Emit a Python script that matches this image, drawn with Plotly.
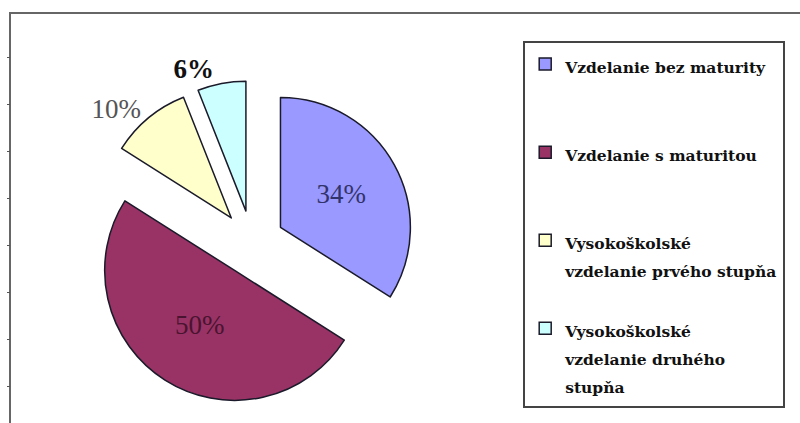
import plotly.graph_objects as go

# ---- data ----
categories = [
    "Vzdelanie bez maturity",
    "Vzdelanie s maturitou",
    "Vysokoškolské<br>vzdelanie prvého stupňa",
    "Vysokoškolské<br>vzdelanie druhého<br>stupňa",
]
values = [34, 50, 10, 6]
colors = ["#9999FF", "#993366", "#FFFFCC", "#CCFFFF"]
text_colors = ["#33336B", "#4A1430", "#555555", "#111111"]
text_positions = ["inside", "inside", "outside", "outside"]
text_templates = ["%{percent:.0%}", "%{percent:.0%}", "%{percent:.0%}", "<b>%{percent:.0%}</b>"]
frame_tick_vals = [0, 1, 2, 3, 4, 5, 6, 7]


def legend_label(txt, n_lines=3):
    lines = txt.split("<br>")
    while len(lines) < n_lines:
        lines.append("\u00a0")
    return "<br>".join('<span style="font-size:15.5px">%s</span>' % l for l in lines)


labels = [legend_label(c) for c in categories]

fig = go.Figure()

fig.add_trace(go.Pie(
    labels=labels,
    values=values,
    sort=False,
    direction="clockwise",
    rotation=0,
    pull=[0.25, 0.25, 0.25, 0.25],
    marker=dict(colors=colors, line=dict(color="#1a1a2a", width=1.5)),
    textposition=text_positions,
    texttemplate=text_templates,
    textfont=dict(family="Liberation Serif", size=27, color=text_colors),
    insidetextorientation="horizontal",
    domain=dict(x=[0.112, 0.518], y=[0.041, 0.810]),
    hoverinfo="label+percent",
))

# dummy trace so the left frame axis with small ticks is drawn
fig.add_trace(go.Scatter(x=[None], y=[None], showlegend=False, hoverinfo="skip",
                         xaxis="x", yaxis="y"))

fig.update_layout(
    width=800, height=423,
    margin=dict(l=0, r=0, t=0, b=0, pad=0, autoexpand=False),
    paper_bgcolor="white",
    plot_bgcolor="rgba(0,0,0,0)",
    showlegend=True,
    legend=dict(
        x=0.654, y=0.902, xanchor="left", yanchor="top",
        bgcolor="white", bordercolor="#444444", borderwidth=2,
        font=dict(family="DejaVu Serif", size=21.8, color="#111111", weight="bold"),
        valign="top",
        traceorder="normal",
    ),
    xaxis=dict(visible=False, domain=[0.0125, 1], range=[0, 1], fixedrange=True),
    yaxis=dict(
        domain=[0, 1], range=[-0.764, 8.21],
        showgrid=False, zeroline=False, showticklabels=False,
        showline=False, ticks="outside", ticklen=3, tickcolor="#555555",
        tickvals=frame_tick_vals, anchor="free", position=0.0125, fixedrange=True,
    ),
    shapes=[dict(
        type="rect", xref="paper", yref="paper",
        x0=0.0125, x1=1.02, y0=-0.02, y1=0.969,
        line=dict(color="#666666", width=2), fillcolor="rgba(0,0,0,0)", layer="below",
    )],
)

fig.write_html("out.html")
